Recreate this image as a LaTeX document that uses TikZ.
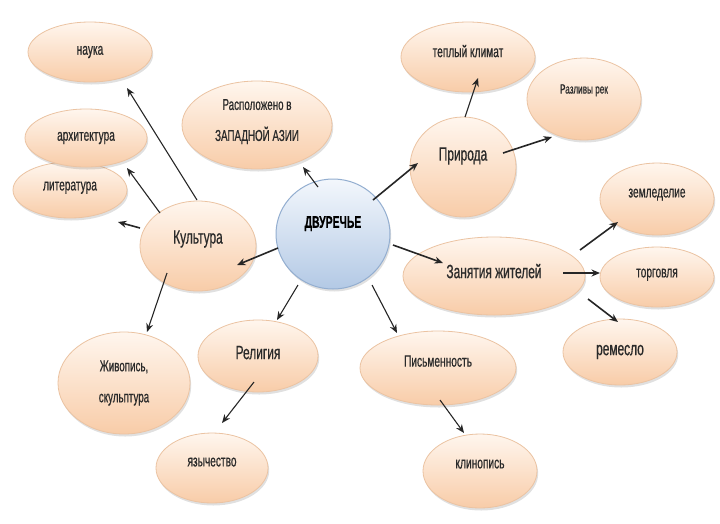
\documentclass[tikz,border=0pt]{standalone}
\usepackage{fontspec}
\setmainfont{Liberation Sans}[FakeStretch=0.62,FakeBold=0.6]
\usetikzlibrary{shapes.geometric,arrows.meta,shadows,calc}
\definecolor{peachT}{HTML}{FFF6EE}
\definecolor{peachB}{HTML}{F8CCA8}
\definecolor{peachD}{HTML}{EBC3A2}
\definecolor{blueT}{HTML}{F3F7FC}
\definecolor{blueB}{HTML}{B3C9E5}
\definecolor{blueD}{HTML}{93AED0}
\definecolor{txt}{HTML}{2A2A2A}
\newcommand\fbig{\fontsize{19.2}{22}\selectfont}
\newcommand\fsmall{\fontsize{16.4}{19}\selectfont}
\newcommand\ftwo{\fontsize{15.8}{31}\selectfont}
\newcommand\ftiny{\fontsize{13.2}{15}\selectfont}
\begin{document}
\begin{tikzpicture}[x=1pt,y=-1pt,
  bubble/.style={ellipse, draw=peachD, line width=0.8pt, top color=peachT, bottom color=peachB,
    inner sep=0pt, text=txt, align=center,
    drop shadow={shadow xshift=1.2pt, shadow yshift=-2.5pt, fill=black, opacity=0.12}},
  core/.style={bubble, draw=blueD, line width=1pt, top color=blueT, bottom color=blueB},
  lift/.style={text depth=#1},
  arr/.style={-{Stealth[length=8.5pt,width=7pt]}, line width=1.1pt, draw=black!85},
  arrT/.style={arr, line width=1.6pt}]
\useasboundingbox (0,0) rectangle (720,523);
\fill[white] (0,0) rectangle (720,523);

% nodes
\node[bubble, minimum width=124pt, minimum height=60pt, font=\fsmall] (nauka) at (90,52) {наука};
\node[bubble, minimum width=150pt, minimum height=88pt, font=\ftwo, lift=10pt] (raspol) at (257,125) {Расположено в\\ЗАПАДНОЙ АЗИИ};
\node[bubble, minimum width=114pt, minimum height=56pt, font=\fsmall, lift=8pt] (lit) at (70,190) {литература};
\node[bubble, minimum width=122pt, minimum height=58pt, font=\fsmall] (arch) at (86,138) {архитектура};
\node[bubble, minimum width=116pt, minimum height=90pt, font=\fbig, lift=18pt] (kult) at (198,246) {Культура};
\node[core, minimum width=114pt, minimum height=110pt, font=\fontsize{16.8}{19}\selectfont\bfseries, text=black, lift=24pt] (dv) at (333,234) {ДВУРЕЧЬЕ};
\node[bubble, minimum width=134pt, minimum height=70pt, font=\fsmall, lift=12pt] (tepl) at (468,57) {теплый климат};
\node[bubble, minimum width=114pt, minimum height=82pt, font=\ftiny, lift=20pt] (razl) at (584,99) {Разливы рек};
\node[bubble, minimum width=106pt, minimum height=100pt, font=\fbig, lift=26pt] (prir) at (463,167) {Природа};
\node[bubble, minimum width=114pt, minimum height=72pt, font=\fsmall, lift=12pt] (zeml) at (657,199) {земледелие};
\node[bubble, minimum width=182pt, minimum height=78pt, font=\fbig, lift=10pt] (zan) at (494,276) {Занятия жителей};
\node[bubble, minimum width=114pt, minimum height=60pt, font=\fsmall, lift=8pt] (torg) at (657,277) {торговля};
\node[bubble, minimum width=114pt, minimum height=66pt, font=\fbig] (rem) at (620,352) {ремесло};
\node[bubble, minimum width=132pt, minimum height=102pt, font=\ftwo] (zhiv) at (124,383) {Живопись,\\скульптура};
\node[bubble, minimum width=120pt, minimum height=72pt, font=\fbig, lift=7pt] (rel) at (258,356) {Религия};
\node[bubble, minimum width=112pt, minimum height=70pt, font=\fsmall, lift=12pt] (yaz) at (212,468) {язычество};
\node[bubble, minimum width=156pt, minimum height=74pt, font=\fsmall, lift=14pt] (pis) at (438,368) {Письменность};
\node[bubble, minimum width=114pt, minimum height=74pt, font=\fsmall, lift=14pt] (klin) at (480,471) {клинопись};

% connectors
\draw[arr]  ($(kult)+(-1,-46)$)  -- ($(nauka)+(37,36)$);
\draw[arr]  ($(kult)+(-38,-33)$) -- ($(arch)+(41,30)$);
\draw[arrT] ($(kult)+(-58,-18)$) -- ($(lit)+(48,32)$);
\draw[arrT] ($(dv)+(-55,14)$)    -- ($(kult)+(39,19)$);
\draw[arr]  ($(kult)+(-31,27)$)  -- ($(zhiv)+(23,-51)$);
\draw[arr]  ($(dv)+(-15,-47)$)   -- ($(raspol)+(46,42)$);
\draw[arrT] ($(dv)+(40,-34)$)    -- ($(prir)+(-45,-4)$);
\draw[arr]  ($(prir)+(2,-50)$)   -- ($(tepl)+(10,21)$);
\draw[arrT] ($(prir)+(40,-14)$)  -- ($(razl)+(-32,38)$);
\draw[arrT] ($(dv)+(60,11)$)     -- ($(zan)+(-51,-13)$);
\draw[arrT] ($(zan)+(86,-26)$)   -- ($(zeml)+(-39,23)$);
\draw[arrT] ($(zan)+(69,-3)$)    -- ($(torg)+(-57,-4)$);
\draw[arrT] ($(zan)+(94,23)$)    -- ($(rem)+(-2,-30)$);
\draw[arr]  ($(dv)+(-35,51)$)    -- ($(rel)+(19,-36)$);
\draw[arr]  ($(rel)+(-4,26)$)    -- ($(yaz)+(10,-45)$);
\draw[arr]  ($(dv)+(39,51)$)     -- ($(pis)+(-41,-35)$);
\draw[arr]  ($(pis)+(2,32)$)     -- ($(klin)+(-16,-38)$);
\end{tikzpicture}
\end{document}
